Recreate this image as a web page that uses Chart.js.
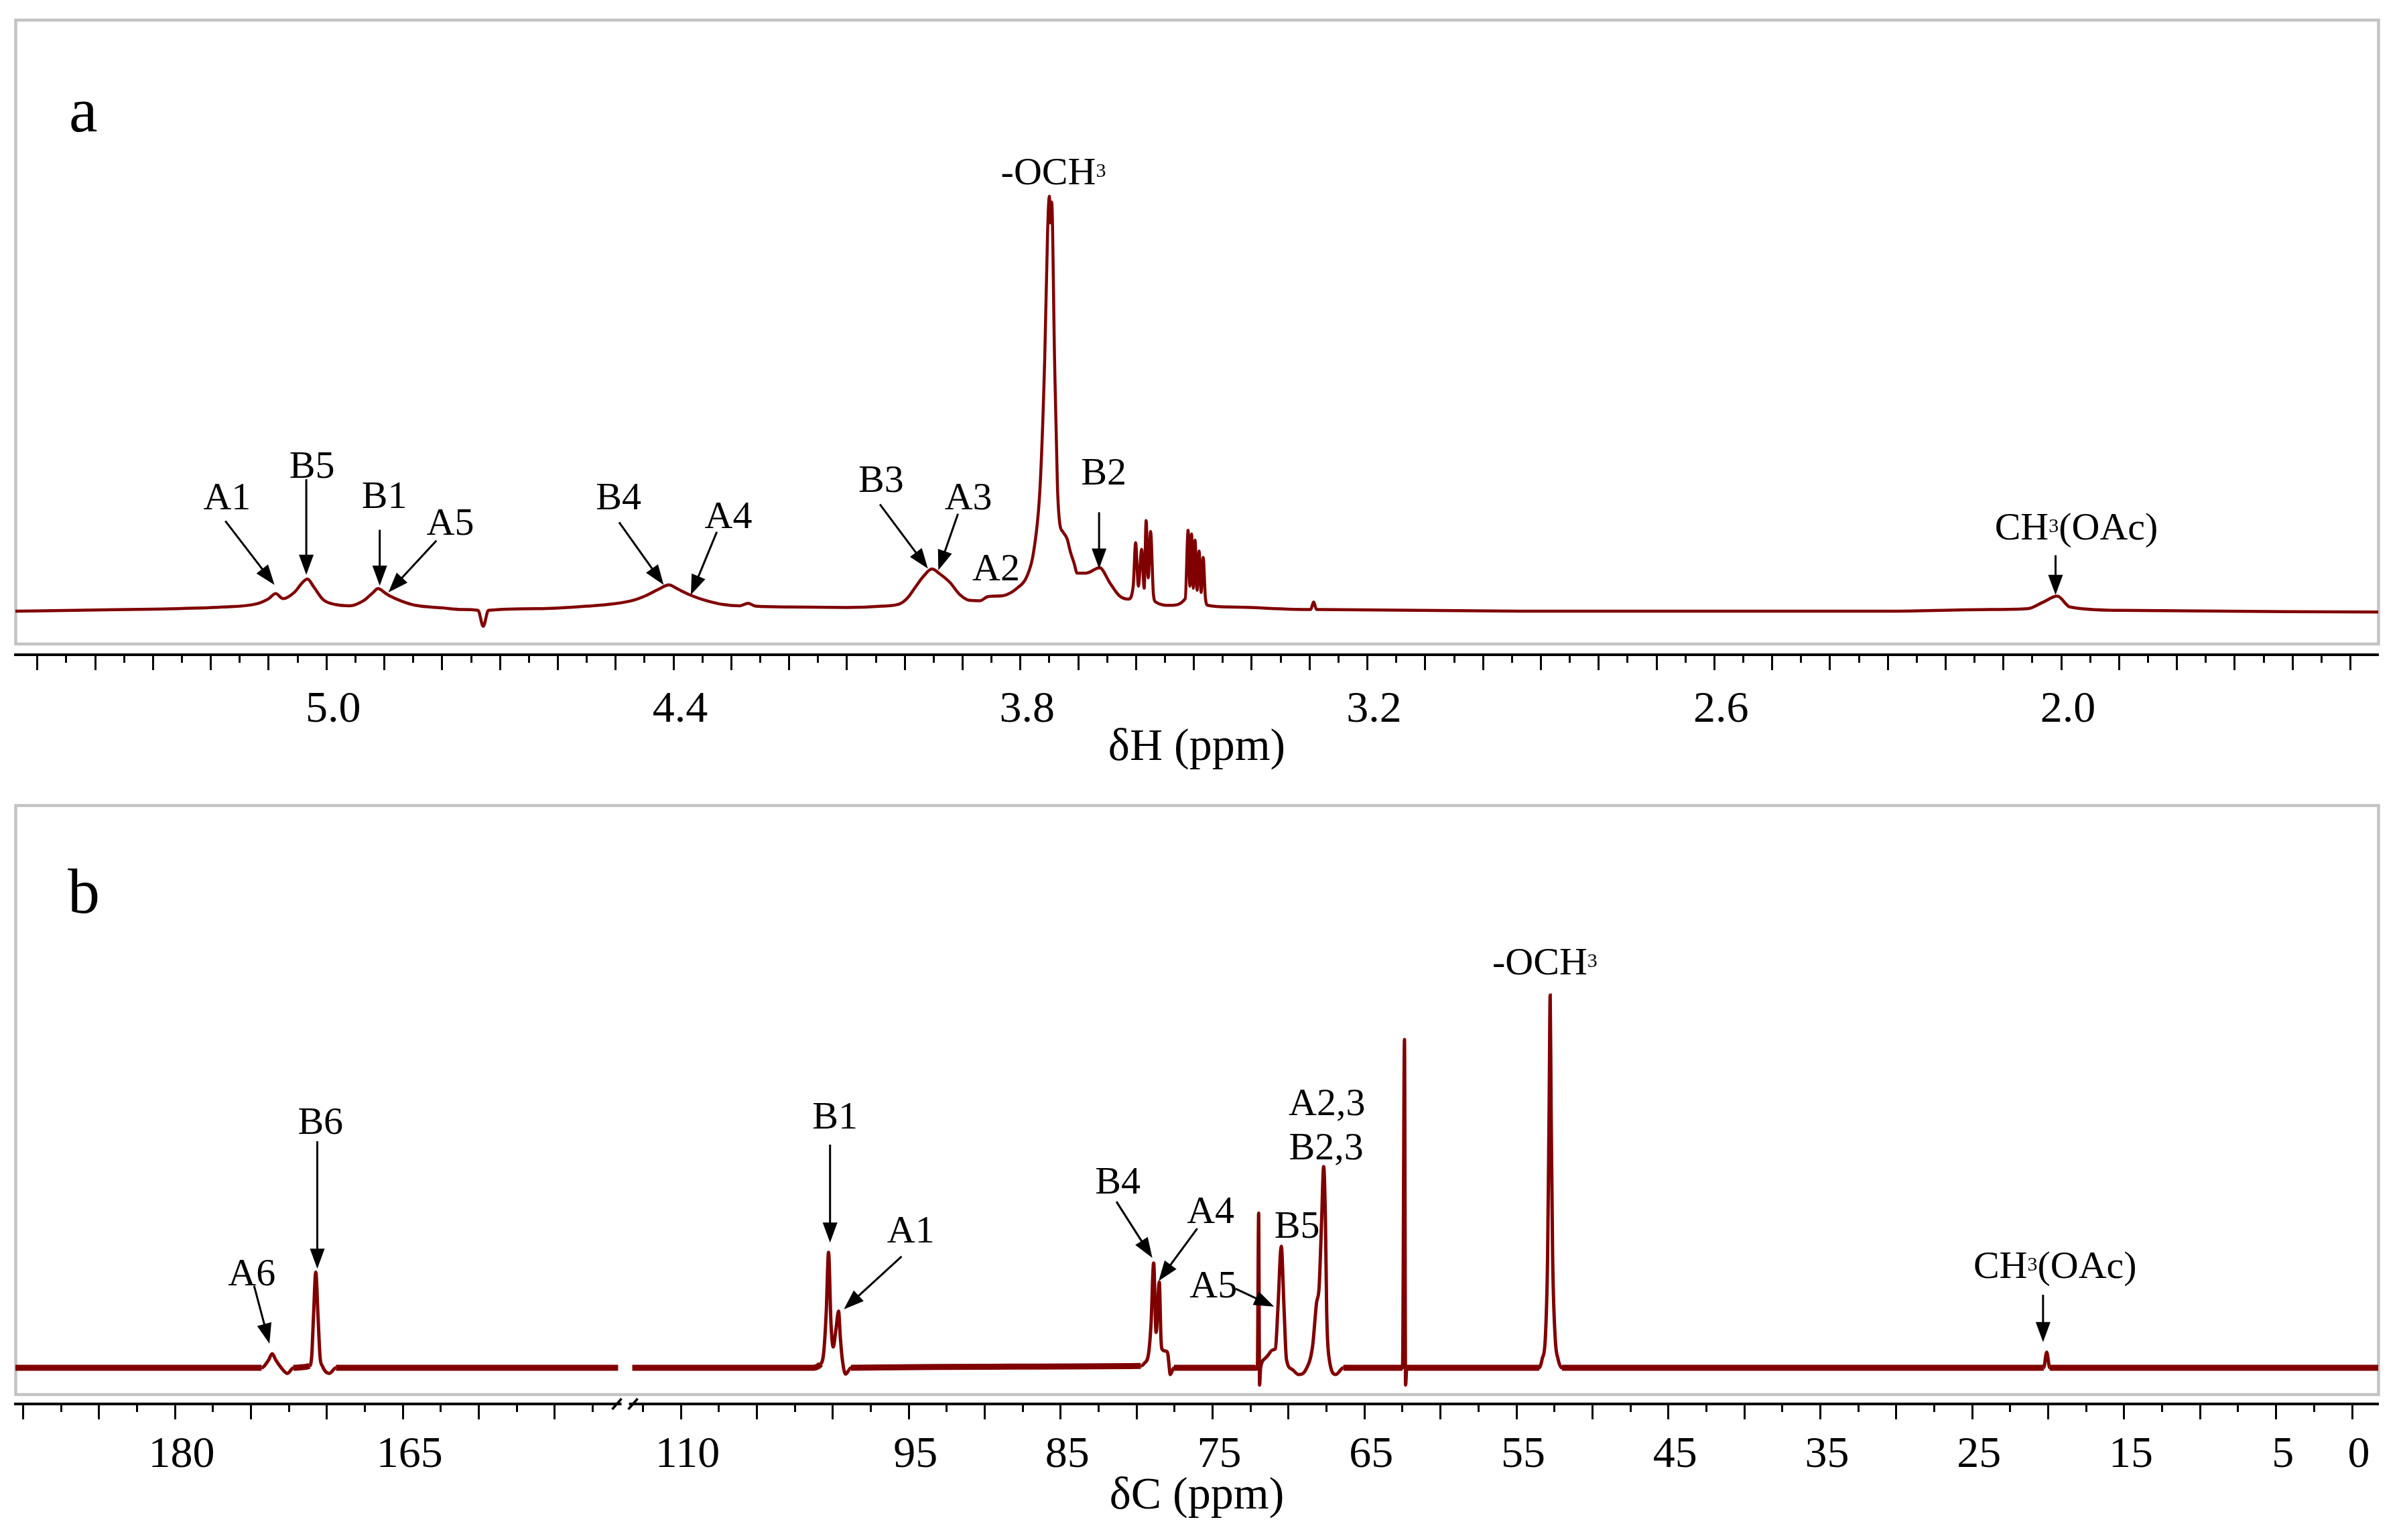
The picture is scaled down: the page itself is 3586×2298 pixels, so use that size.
<!DOCTYPE html>
<html><head><meta charset="utf-8">
<script src="https://cdn.jsdelivr.net/npm/chart.js@4.4.1/dist/chart.umd.min.js"></script>
<style>
html,body{margin:0;padding:0;background:#fff;}
#wrap{position:relative;width:3586px;height:2298px;overflow:hidden;background:#fff}
canvas{position:absolute;left:0}
</style></head><body>
<div id="wrap">
<canvas id="ca" width="3586" height="1150" style="top:0;width:3586px;height:1150px"></canvas>
<canvas id="cb" width="3586" height="1148" style="top:1150px;width:3586px;height:1148px"></canvas>
</div>
<script>
// ---------- Panel a : 1H spectrum (ppm, relative intensity) ----------
const hPpm = [5.538,5.40,5.30,5.18,5.12,5.10,5.088,5.075,5.055,5.042,5.033,5.022,5.006,4.985,4.960,4.935,4.920,4.911,4.898,4.890,4.870,4.846,4.800,4.766,4.738,4.729,4.720,4.633,4.550,4.501,4.470,4.448,4.425,4.408,4.395,4.387,4.368,4.345,4.314,4.285,4.271,4.258,4.200,4.101,4.040,4.008,3.995,3.982,3.968,3.953,3.940,3.922,3.905,3.888,3.870,3.856,3.831,3.805,3.789,3.777,3.766,3.758,3.753,3.750,3.748,3.746,3.741,3.736,3.732,3.727,3.719,3.714,3.707,3.702,3.687,3.663,3.645,3.629,3.613,3.605,3.6008,3.596,3.5904,3.586,3.5826,3.579,3.5749,3.570,3.566,3.541,3.515,3.510,3.507,3.504,3.501,3.498,3.4945,3.491,3.4875,3.484,3.480,3.476,3.437,3.298,3.293,3.288,3.283,2.937,2.298,2.125,2.058,2.031,2.007,1.985,1.898,1.452];
const hInt = [0,0.3,0.5,1.0,1.8,3.0,4.2,3.0,4.6,6.8,7.7,5.8,2.8,1.6,1.3,2.6,4.4,5.4,4.3,3.6,2.4,1.4,0.8,0.4,0.2,-3.6,0.2,0.6,1.2,1.8,2.6,3.7,5.3,6.3,5.5,4.9,3.7,2.6,1.6,1.3,1.9,1.2,1.0,0.9,1.2,1.8,3.2,5.7,8.3,10.1,9.0,6.9,4.0,2.6,2.5,3.5,3.7,5.6,8.3,14.4,29.9,60.5,91,99.4,93,98,60.5,29.9,21,19.1,17.2,14.4,11.4,9.1,9.1,10.4,6.7,3.7,2.9,6.0,16.4,6.0,14.8,5.5,21.7,8.0,19.1,4.0,2.2,1.4,3.0,19.4,6.0,18.5,5.5,17.0,5.0,14.4,4.5,12.9,3.0,1.4,1.0,0.4,2.2,0.4,0.4,0,0,0.4,0.6,2.2,3.6,1.0,0.2,-0.2];
const hTickLabels = [5.0, 4.4, 3.8, 3.2, 2.6, 2.0];
const hLabels = [['A1',5.172,27.5],['B5',5.025,35.0],['B1',4.900,27.8],['A5',4.786,21.3],['B4',4.495,27.5],['A4',4.305,23.0],['B3',4.041,31.6],['A3',3.890,27.5],['A2',3.842,10.4],['B2',3.656,33.4],['-OCH^3',3.743,105.3],['CH^3(OAc)',1.974,20.2]];
const hArrows = [[5.175,21.6,5.090,6.3],[5.035,31.6,5.035,8.7],[4.908,19.5,4.908,6.1],[4.810,16.9,4.893,4.5],[4.494,21.3,4.417,6.3],[4.325,19.0,4.370,3.9],[4.043,25.6,3.960,10.2],[3.908,23.3,3.942,9.8],[3.664,23.7,3.664,10.2],[2.010,13.4,2.010,3.9]];

// ---------- Panel b : 13C spectrum, broken axis ----------
const cLeftPpm = [190.5,174.3,173.85,173.6,173.35,173.0,172.6,172.2,171.15,171.0,170.88,170.73,170.58,170.45,170.3,169.84,169.4,150.83];
const cLeftInt = [0,0,2.0,3.8,2.0,0,-1.5,0,0.5,3.0,13.7,25.7,13.7,3.0,0.5,-1.5,0,0];
const cRightPpm = [113.2,101.43,100.8,100.60,100.43,100.28,100.12,99.97,99.80,99.62,99.50,99.38,99.16,98.8,79.73,79.48,79.22,79.05,78.88,78.72,78.51,78.40,78.34,78.10,77.96,77.85,77.79,77.54,72.15,72.05,71.97,71.91,71.84,71.55,71.37,71.05,70.87,70.70,70.48,70.30,70.14,69.77,69.34,68.85,68.42,68.16,67.99,67.83,67.69,67.57,67.49,67.32,66.89,66.39,62.50,62.37,62.30,62.22,53.50,53.30,53.10,52.95,52.85,52.78,52.72,52.62,52.45,52.27,52.00,20.30,20.10,19.90,-1.72];
const cRightInt = [0,0,1.0,4.0,15.0,31.0,12,5.6,10,15.2,8,2.5,-1.7,0,0.5,1.3,3.7,12,28.1,9.5,23.0,8,5.1,4.5,4.0,0,-1.8,0,0,0.5,41.5,-4.6,0,2.5,3.3,4.8,5.1,16.1,32.6,16.1,2.3,-0.4,-1.8,-0.4,5.8,17.4,21.6,38.8,54.0,38.8,14.7,2.3,-1.8,0,0,88.1,-4.6,0,0,2.5,8.0,30,70,100,70,30,8,2.5,0,0,4.2,0,0];
const cSegHi = [190.5, 113.46];
const cSegLo = [150.56, -1.72];
const cGap = 0.40;
const cTickLabels = [180, 165, 110, 95, 85, 75, 65, 55, 45, 35, 25, 15, 5, 0];
const cLabels = [['A6',174.94,25.6],['B6',170.42,66.3],['B1',99.85,67.7],['A1',94.86,37.1],['B4',81.24,50.2],['A4',75.13,42.3],['A5',74.95,22.3],['B5',69.44,38.3],['A2,3',67.47,71.2],['B2,3',67.52,59.4],['-OCH^3',53.13,109.0],['CH^3(OAc)',19.55,27.5]];
const cArrows = [[174.79,22.0,173.78,6.5],[170.63,60.8,170.63,26.6],[100.18,59.9,100.18,33.6],[95.47,29.9,99.27,15.7],[81.33,44.6,78.97,29.5],[76.01,37.4,78.55,23.3],[73.48,21.2,70.95,16.4],[20.34,19.6,20.34,6.9]];

// ---------- styling ----------
const FONT = "'Liberation Serif', 'Times New Roman', serif";
const RED = '#800000';
Chart.defaults.font.family = FONT;

class BrokenLinearScale extends Chart.LinearScale {
  _total() { return (cSegHi[0]-cSegLo[0]) + cGap + (cSegHi[1]-cSegLo[1]); }
  getPixelForValue(v) {
    if (v === null || v === undefined) return NaN;
    const w0 = cSegHi[0]-cSegLo[0];
    let u;
    if (v >= (cSegLo[0]+cSegHi[1])/2) u = cSegHi[0]-v; else u = w0 + cGap + (cSegHi[1]-v);
    return this.left + u/this._total()*this.width;
  }
  getValueForPixel(p) {
    const w0 = cSegHi[0]-cSegLo[0];
    const u = (p-this.left)/this.width*this._total();
    if (u <= w0 + cGap/2) return cSegHi[0]-u;
    return cSegHi[1]-(u-w0-cGap);
  }
}
BrokenLinearScale.id = 'brokenLinear';
BrokenLinearScale.defaults = Chart.LinearScale.defaults;
Chart.register(BrokenLinearScale);

function drawRich(ctx, text, cx, cy, size) {
  const parts = []; let buf = '';
  for (let i = 0; i < text.length; i++) {
    if (text[i] === '^') { if (buf) parts.push([buf,false]); buf=''; parts.push([text[i+1],true]); i++; }
    else buf += text[i];
  }
  if (buf) parts.push([buf,false]);
  const sup = Math.round(size*0.52);
  let w = 0;
  for (const [s,isSup] of parts) { ctx.font = (isSup?sup:size)+'px '+FONT; w += ctx.measureText(s).width; }
  let x = cx - w/2; const base = cy + size*0.33;
  ctx.textAlign = 'left'; ctx.textBaseline = 'alphabetic';
  for (const [s,isSup] of parts) {
    ctx.font = (isSup?sup:size)+'px '+FONT;
    ctx.fillText(s, x, isSup ? base - size*0.19 : base);
    x += ctx.measureText(s).width;
  }
}
function drawArrow(ctx, x1, y1, x2, y2) {
  const L = 30, W = 11;
  const dx = x2-x1, dy = y2-y1, d = Math.hypot(dx,dy), ux = dx/d, uy = dy/d;
  const bx = x2-ux*L, by = y2-uy*L;
  ctx.beginPath(); ctx.moveTo(x1,y1); ctx.lineTo(bx+ux*2, by+uy*2);
  ctx.lineWidth = 3; ctx.strokeStyle = '#000'; ctx.stroke();
  ctx.beginPath(); ctx.moveTo(x2,y2); ctx.lineTo(bx-uy*W, by+ux*W); ctx.lineTo(bx+uy*W, by-ux*W); ctx.closePath();
  ctx.fillStyle = '#000'; ctx.fill();
}
function makeDeco(cfg) {
  return {
    id: 'deco' + cfg.letter,
    beforeDatasetsDraw(chart) {
      const {ctx, chartArea: a} = chart;
      ctx.save();
      ctx.strokeStyle = '#c3c3c3'; ctx.lineWidth = 4.5;
      ctx.strokeRect(a.left+0.5, a.top, a.right-a.left, a.bottom-cfg.frameGap-a.top);
      ctx.restore();
    },
    afterDraw(chart) {
      const {ctx, chartArea: a, scales: {x, y}} = chart;
      ctx.save();
      ctx.fillStyle = '#000';
      ctx.font = '96px '+FONT; ctx.textAlign = 'left'; ctx.textBaseline = 'alphabetic';
      ctx.fillText(cfg.letter, a.left+cfg.letterDx, a.top+cfg.letterDy);
      for (const [p1,i1,p2,i2] of cfg.arrows)
        drawArrow(ctx, x.getPixelForValue(p1), y.getPixelForValue(i1), x.getPixelForValue(p2), y.getPixelForValue(i2));
      ctx.fillStyle = '#000';
      for (const [t,p,i] of cfg.labels) drawRich(ctx, t, x.getPixelForValue(p), y.getPixelForValue(i), 58);
      if (cfg.broken) {
        const gl = x.getPixelForValue(cSegLo[0]), gr = x.getPixelForValue(cSegHi[1]);
        const ay = a.bottom;
        ctx.fillStyle = '#fff';
        ctx.fillRect(gl-1, ay-4, gr-gl+2, 8);
        ctx.strokeStyle = '#000'; ctx.lineWidth = 3.5;
        for (const cxp of [gl-8, gr+7]) {
          ctx.beginPath(); ctx.moveTo(cxp-7, ay+8); ctx.lineTo(cxp+7, ay-8); ctx.stroke();
        }
      }
      ctx.restore();
    }
  };
}
function near(v, list) { return list.some(t => Math.abs(t - v) < 1e-6); }

// tick grids
const hTicks = []; for (let k = 110; k >= 30; k--) hTicks.push(Math.round(k*5)/100);
const cTicks = []; for (let k = 76; k >= 61; k--) cTicks.push(k*2.5); for (let k = 45; k >= 0; k--) cTicks.push(k*2.5);

function xAxis(opts) {
  return Object.assign({
    bounds: 'data',
    afterBuildTicks: s => { s.ticks = opts.tickList.map(v => ({value: v})); },
    afterFit: s => { s.height = opts.height; s.paddingLeft = 0; s.paddingRight = 0; },
    grid: { display: true, drawOnChartArea: false, drawTicks: true, tickLength: 23, tickWidth: 3, tickColor: '#000',
      tickBorderDash: c => (c.tick && opts.isMajor(c.tick.value)) ? [] : [10, 80] },
    border: { display: true, color: '#000', width: 4 },
    ticks: { autoSkip: false, maxRotation: 0, minRotation: 0, padding: opts.tickPad, labelOffset: 10, color: '#000',
      font: { family: FONT, size: 66, lineHeight: 1 },
      callback: v => near(v, opts.labels) ? opts.fmt(v) : '' },
    title: { display: true, text: opts.title, color: '#000', font: { family: FONT, size: 68, lineHeight: 1 }, padding: { top: 0, bottom: opts.titlePad } }
  }, opts.extra);
}

new Chart(document.getElementById('ca'), {
  type: 'line',
  data: { datasets: [{ data: hPpm.map((p,i) => ({x: p, y: hInt[i]})), borderColor: RED, borderWidth: 4.5, pointRadius: 0, cubicInterpolationMode: 'monotone', fill: false }] },
  options: {
    responsive: false, animation: false, devicePixelRatio: 1, events: [],
    layout: { padding: { left: 23, right: 37, top: 30, bottom: 0 } },
    plugins: { legend: { display: false }, tooltip: { enabled: false } },
    scales: {
      x: xAxis({ tickList: hTicks, height: 173, tickPad: 27, labels: hTickLabels, fmt: v => v.toFixed(1), title: 'δH (ppm)', titlePad: 0,
        isMajor: v => Math.abs(v*10 - Math.round(v*10)) < 1e-6,
        extra: { type: 'linear', reverse: true, min: 1.452, max: 5.538 } }),
      y: { display: false, min: -10.43, max: 141.57 }
    }
  },
  plugins: [makeDeco({ letter: 'a', letterDx: 80, letterDy: 166, frameGap: 16, labels: hLabels, arrows: hArrows, broken: false })]
});

const thick = c => (Math.abs(c.p0.parsed.y) <= 1.0 && Math.abs(c.p1.parsed.y) <= 1.0) ? 9 : 5;
new Chart(document.getElementById('cb'), {
  type: 'line',
  data: { datasets: [
    { data: cLeftPpm.map((p,i) => ({x: p, y: cLeftInt[i]})), borderColor: RED, borderWidth: 5, pointRadius: 0, cubicInterpolationMode: 'monotone', fill: false, segment: { borderWidth: thick } },
    { data: cRightPpm.map((p,i) => ({x: p, y: cRightInt[i]})), borderColor: RED, borderWidth: 5, pointRadius: 0, cubicInterpolationMode: 'monotone', fill: false, segment: { borderWidth: thick } }
  ] },
  options: {
    responsive: false, animation: false, devicePixelRatio: 1, events: [],
    layout: { padding: { left: 23, right: 37, top: 52, bottom: 0 } },
    plugins: { legend: { display: false }, tooltip: { enabled: false } },
    scales: {
      x: xAxis({ tickList: cTicks, height: 203, tickPad: 21, labels: cTickLabels, fmt: v => String(v), title: 'δC (ppm)', titlePad: 31,
        isMajor: v => Math.abs(v/5 - Math.round(v/5)) < 1e-6,
        extra: { type: 'brokenLinear', min: -1.72, max: 190.5 } }),
      y: { display: false, min: -9.7, max: 150.9 }
    }
  },
  plugins: [makeDeco({ letter: 'b', letterDx: 78, letterDy: 160, frameGap: 14, labels: cLabels, arrows: cArrows, broken: true })]
});
</script>
</body></html>
